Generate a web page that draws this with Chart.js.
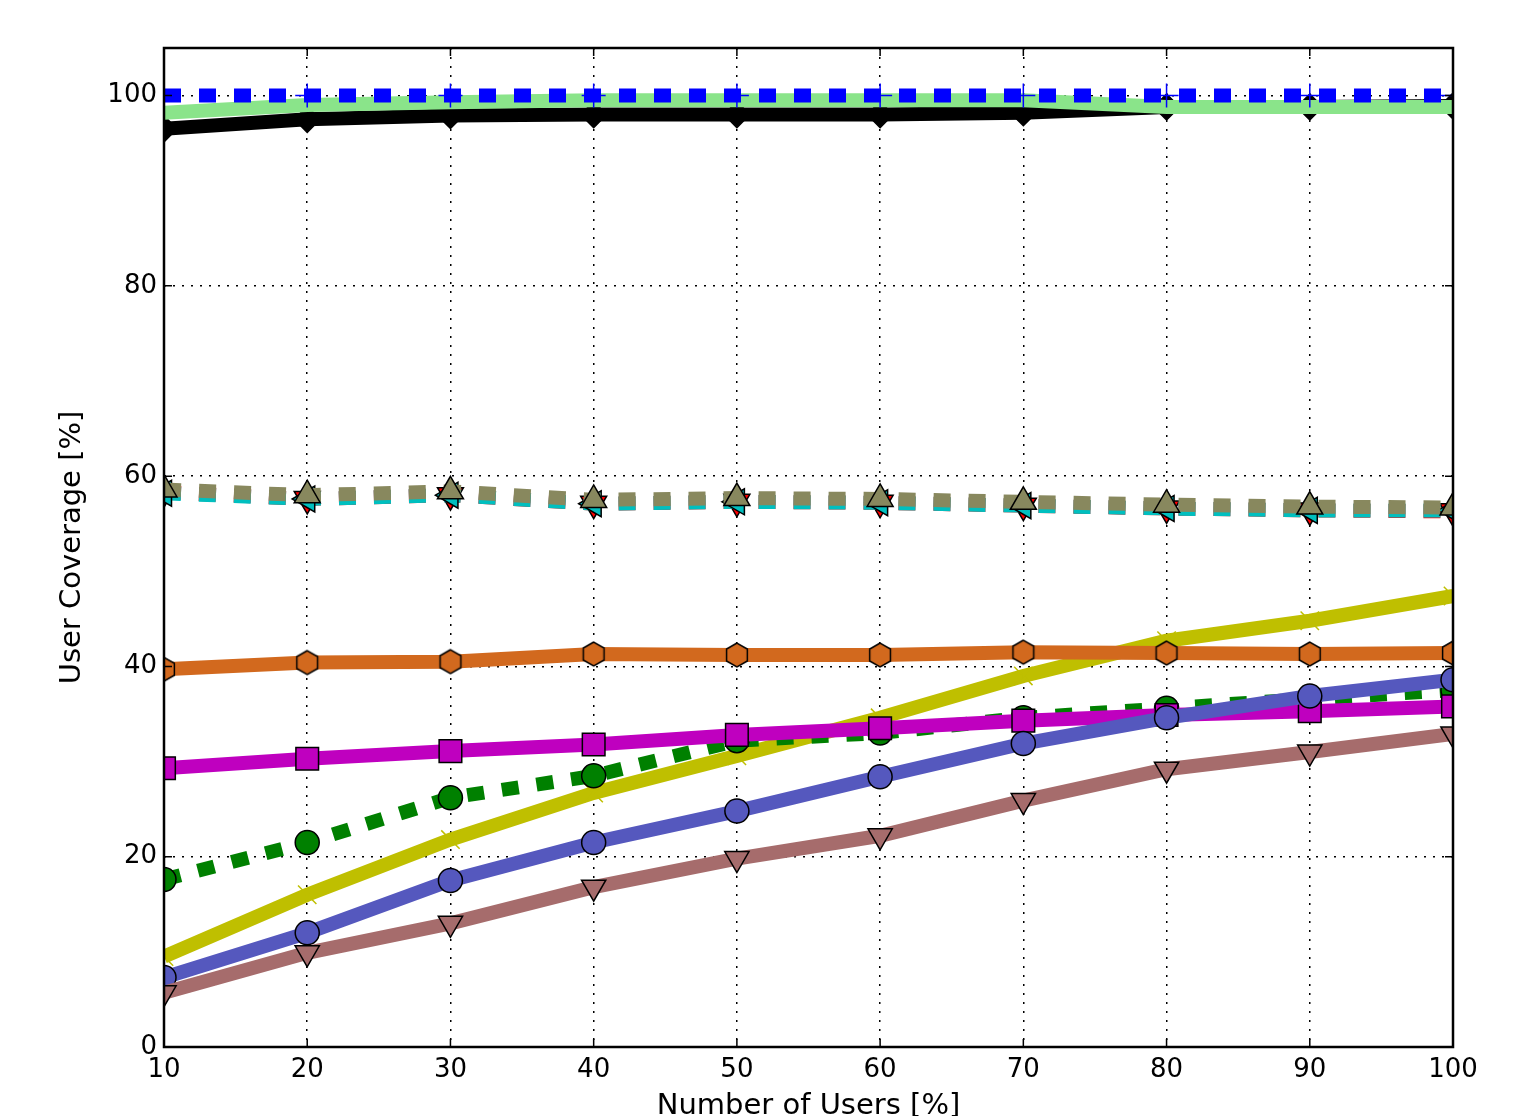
<!DOCTYPE html>
<html>
<head>
<meta charset="utf-8">
<title>User Coverage</title>
<script src="https://cdn.jsdelivr.net/npm/chart.js@4/dist/chart.umd.min.js"></script>
<style>
  body { margin: 0; background: #fff; }
</style>
</head>
<body>
<canvas id="coverage" width="1520" height="1116"></canvas>
<script>
// x values (number of users, %)
const users = [10, 20, 30, 40, 50, 60, 70, 80, 90, 100];

// coverage per series
const blueDotted = [100, 100, 100, 100, 100, 100, 100, 100, 100, 100];
const lightGreen = [98.2, 99.0, 99.3, 99.5, 99.5, 99.5, 99.5, 98.8, 98.8, 98.8];
const blackDiamond = [96.5, 97.5, 97.9, 98.0, 98.0, 98.0, 98.2, 98.8, 98.8, 98.9];
const redDotted = [58.3, 57.6, 58.0, 57.1, 57.3, 57.2, 56.9, 56.6, 56.4, 56.3];
const cyanDotted = [58.2, 57.6, 58.0, 57.1, 57.3, 57.2, 56.9, 56.6, 56.4, 56.4];
const oliveDotted = [58.6, 58.0, 58.4, 57.5, 57.7, 57.6, 57.3, 57.0, 56.8, 56.7];
const yellowX = [9.5, 16.0, 21.8, 26.7, 30.6, 34.6, 39.0, 42.7, 44.8, 47.4];
const orangeHex = [39.7, 40.4, 40.5, 41.3, 41.2, 41.2, 41.5, 41.4, 41.3, 41.4];
const greenCircle = [17.6, 21.5, 26.2, 28.5, 32.2, 33.0, 34.6, 35.6, 36.6, 37.5];
const magentaSquare = [29.3, 30.3, 31.1, 31.8, 32.8, 33.5, 34.3, 34.9, 35.3, 35.8];
const blueCircle = [7.3, 12.0, 17.5, 21.5, 24.8, 28.4, 31.9, 34.6, 36.9, 38.6];
const brownTriangle = [5.7, 9.9, 13.0, 16.8, 19.8, 22.2, 25.9, 29.2, 31.0, 32.9];

const yTicks = [0, 20, 40, 60, 80, 100];

// hexagon marker (pointy top) as a small canvas
function hexMarker(r, fill) {
  const c = document.createElement('canvas');
  const s = Math.ceil(r * 2 + 4);
  c.width = s; c.height = s;
  const g = c.getContext('2d');
  g.beginPath();
  for (let i = 0; i < 6; i++) {
    const a = Math.PI / 2 + i * Math.PI / 3;
    const px = s / 2 + r * Math.cos(a), py = s / 2 - r * Math.sin(a);
    if (i === 0) g.moveTo(px, py); else g.lineTo(px, py);
  }
  g.closePath();
  g.fillStyle = fill;
  g.fill();
  g.lineWidth = 1.5;
  g.strokeStyle = '#000';
  g.stroke();
  return c;
}

const pts = vals => users.map((u, i) => ({x: u, y: vals[i]}));

// plot order, first one at the bottom
const series = [
  {data: blackDiamond, color: '#000000', style: 'rectRot', r: 13},
  {data: lightGreen, color: '#8ae48a', style: false, r: 0},
  {data: blueDotted, color: '#0000ff', style: 'cross', r: 12, dash: [17, 18], edge: '#0000ff'},
  {data: redDotted, color: '#ff0000', style: 'triangle', rot: 180, r: 15, dash: [17, 18]},
  {data: cyanDotted, color: '#00bfbf', style: 'triangle', rot: -90, r: 15, dash: [17, 18]},
  {data: oliveDotted, color: '#88885e', style: 'triangle', r: 15, dash: [17, 18]},
  {data: yellowX, color: '#bfbf00', style: 'crossRot', r: 13, edge: '#bfbf00'},
  {data: orangeHex, color: '#d2691e', style: hexMarker(12, '#d2691e'), r: 12},
  {data: greenCircle, color: '#008000', style: 'circle', r: 12, dash: [17, 18]},
  {data: magentaSquare, color: '#bf00bf', style: 'rect', r: 16},
  {data: blueCircle, color: '#5558be', style: 'circle', r: 12},
  {data: brownTriangle, color: '#a66c6c', style: 'triangle', rot: 180, r: 14}
];

const datasets = series.map((s, i) => ({
  data: pts(s.data),
  borderColor: s.color,
  borderWidth: 14,
  borderDash: s.dash || [],
  borderCapStyle: 'butt',
  pointStyle: s.style,
  pointRadius: s.r,
  pointRotation: s.rot || 0,
  pointBackgroundColor: s.color,
  pointBorderColor: s.edge || '#000',
  pointBorderWidth: 1.5,
  clip: 0,
  order: series.length - i
}));

// box around the plot plus inward tick marks
const frame = {
  id: 'frame',
  afterDatasetsDraw(chart) {
    const {ctx, chartArea: a, scales: {x, y}} = chart;
    ctx.save();
    ctx.strokeStyle = '#000';
    ctx.lineWidth = 1.5;
    ctx.beginPath();
    x.ticks.forEach(t => {
      const px = x.getPixelForValue(t.value);
      ctx.moveTo(px, a.bottom); ctx.lineTo(px, a.bottom - 8);
      ctx.moveTo(px, a.top); ctx.lineTo(px, a.top + 8);
    });
    y.ticks.forEach(t => {
      const py = y.getPixelForValue(t.value);
      ctx.moveTo(a.left, py); ctx.lineTo(a.left + 8, py);
      ctx.moveTo(a.right, py); ctx.lineTo(a.right - 8, py);
    });
    ctx.stroke();
    ctx.lineWidth = 2.5;
    ctx.strokeRect(a.left, a.top, a.right - a.left, a.bottom - a.top);
    ctx.restore();
  }
};

Chart.defaults.font.family = '"DejaVu Sans", sans-serif';
Chart.defaults.font.size = 26;
Chart.defaults.color = '#000';

const ctx = document.getElementById('coverage').getContext('2d');

new Chart(ctx, {
  type: 'line',
  data: {datasets},
  options: {
    responsive: false,
    animation: false,
    layout: {padding: {top: 48, right: 67, left: 0, bottom: 0}},
    plugins: {legend: {display: false}, tooltip: {enabled: false}},
    scales: {
      x: {
        type: 'linear',
        min: 10,
        max: 100,
        afterFit: scale => { scale.height = 69; },
        ticks: {stepSize: 10, autoSkip: false, maxRotation: 0, padding: 8},
        grid: {color: '#000', lineWidth: 1.5, drawTicks: false},
        border: {display: false, dash: [2, 7]},
        title: {display: true, text: 'Number of Users [%]', font: {size: 29}, padding: {top: 0, bottom: -8}}
      },
      y: {
        min: 0,
        max: 105,
        afterFit: scale => { scale.width = 164; },
        afterBuildTicks: scale => {
          scale.ticks = yTicks.map(v => ({value: v}));
        },
        ticks: {padding: 7},
        grid: {color: '#000', lineWidth: 1.5, drawTicks: false},
        border: {display: false, dash: [2, 7]},
        title: {display: true, text: 'User Coverage [%]', font: {size: 29}, padding: {top: 55, bottom: 0}}
      }
    }
  },
  plugins: [frame]
});
</script>
</body>
</html>
